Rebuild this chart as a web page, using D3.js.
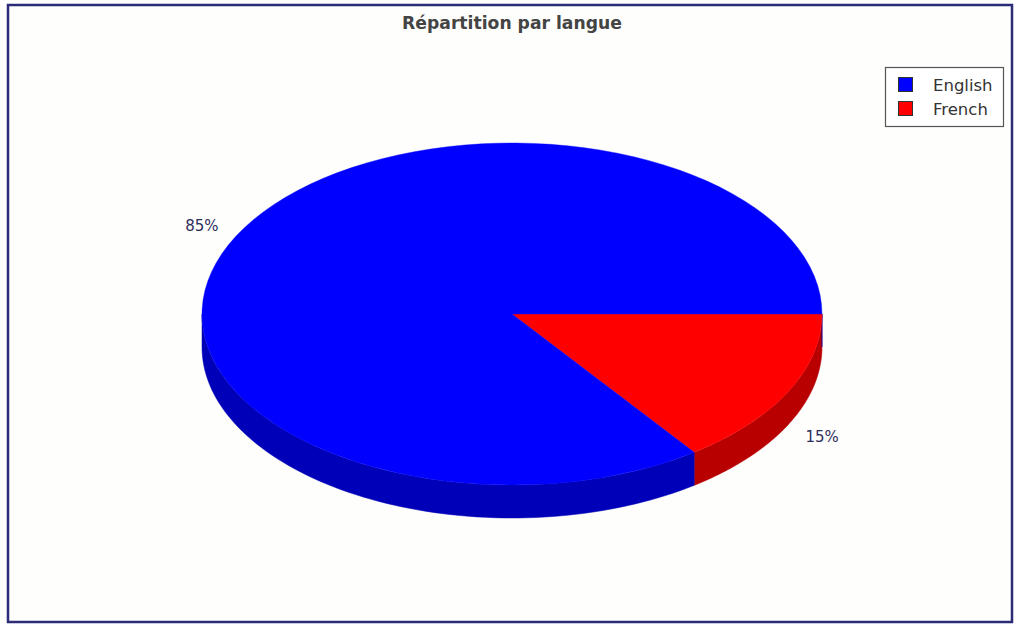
<!DOCTYPE html>
<html>
<head>
<meta charset="utf-8">
<script src="https://cdn.jsdelivr.net/npm/d3@7"></script>
<style>
  html, body { margin: 0; padding: 0; background: #ffffff; }
  svg { display: block; }
</style>
</head>
<body>
<svg id="chart" width="1016" height="627"></svg>
<script>
// ---- data ----
const title = "Répartition par langue";
const categories = ["French", "English"];
const values = [15, 85];
const legendOrder = ["English", "French"];

const topColors = { English: "#0000ff", French: "#ff0000" };
const sideColors = { English: "#0000b8", French: "#b80000" };

const W = 1016, H = 627;
const svg = d3.select("#chart");

// frame
svg.append("rect").attr("x", 0).attr("y", 0).attr("width", W).attr("height", H).attr("fill", "#ffffff");
svg.append("rect")
  .attr("x", 8).attr("y", 5).attr("width", 1004).attr("height", 617)
  .attr("fill", "#fefefc").attr("stroke", "#2b2b78").attr("stroke-width", 2.5);

// title
const t = svg.append("text")
  .attr("x", 512).attr("y", 29)
  .attr("text-anchor", "middle")
  .attr("font-family", "DejaVu Sans, sans-serif")
  .attr("font-weight", "bold")
  .attr("font-size", 17)
  .attr("fill", "#444444")
  .text(title);
const tw = t.node().getComputedTextLength();
t.attr("font-size", 17 * 220 / tw);

// pie geometry
const cx = 512, cy = 314, rx = 310, ry = 171, depth = 33;
const pieGen = d3.pie().sort(null).value(d => d.value)
  .startAngle(Math.PI / 2).endAngle(Math.PI / 2 + 2 * Math.PI);
const arcs = pieGen(categories.map((c, i) => ({ name: c, value: values[i] })));

// ellipse point for d3 angle convention (0 = 12 o'clock, clockwise)
const xs = d3.scaleLinear().domain([-1, 1]).range([cx - rx, cx + rx]);
const ys = d3.scaleLinear().domain([-1, 1]).range([cy - ry, cy + ry]);
const pt = (a, dy) => [xs(Math.sin(a)), ys(-Math.cos(a)) + (dy || 0)];

// side walls: visible part is where -cos(a) > 0, i.e. a in [PI/2, 3PI/2] mod 2PI
const sides = svg.append("g");
arcs.forEach(d => {
  const ranges = [];
  for (let k = 0; k < 2; k++) {
    const lo = Math.PI / 2 + k * 2 * Math.PI, hi = 3 * Math.PI / 2 + k * 2 * Math.PI;
    const a0 = Math.max(d.startAngle, lo), a1 = Math.min(d.endAngle, hi);
    if (a1 > a0) ranges.push([a0, a1]);
  }
  ranges.forEach(([a0, a1]) => {
    const n = 80;
    const top = d3.range(n + 1).map(i => pt(a0 + (a1 - a0) * i / n));
    const bot = d3.range(n + 1).map(i => pt(a1 - (a1 - a0) * i / n, depth));
    sides.append("path")
      .attr("d", d3.line()(top.concat(bot)) + "Z")
      .attr("fill", sideColors[d.data.name])
      .attr("stroke", sideColors[d.data.name]).attr("stroke-width", 0.5);
  });
});

// top faces
const arc = d3.arc().innerRadius(0).outerRadius(rx);
const topG = svg.append("g")
  .attr("transform", `translate(${cx},${cy}) scale(1,${ry / rx})`);
topG.selectAll("path").data(arcs).join("path")
  .attr("d", arc)
  .attr("fill", d => topColors[d.data.name])
  .attr("stroke", d => topColors[d.data.name]).attr("stroke-width", 0.5);

// labels
const total = d3.sum(values);
svg.append("g").selectAll("text").data(arcs).join("text")
  .attr("x", d => { const a = (d.startAngle + d.endAngle) / 2; return cx + 348 * Math.sin(a); })
  .attr("y", d => {
    const a = (d.startAngle + d.endAngle) / 2;
    const c = -Math.cos(a);
    return cy + 196 * c + (c > 0 ? depth : 0) + 6;
  })
  .attr("text-anchor", "middle")
  .attr("font-family", "DejaVu Sans, sans-serif")
  .attr("font-size", 15)
  .attr("fill", "#2e2e5e")
  .text(d => Math.round(d.data.value / total * 100) + "%");

// legend
const lg = svg.append("g");
lg.append("rect").attr("x", 885.5).attr("y", 67.5).attr("width", 118).attr("height", 59)
  .attr("fill", "#ffffff").attr("stroke", "#555555").attr("stroke-width", 1.2);
legendOrder.forEach((name, i) => {
  lg.append("rect").attr("x", 898.5).attr("y", 77.5 + i * 24).attr("width", 14).attr("height", 14)
    .attr("fill", topColors[name]).attr("stroke", "#333333").attr("stroke-width", 1);
  lg.append("text").attr("x", 933).attr("y", 90.5 + i * 24)
    .attr("font-family", "DejaVu Sans, sans-serif").attr("font-size", 16.5)
    .attr("fill", "#333333").text(name);
});
</script>
</body>
</html>
